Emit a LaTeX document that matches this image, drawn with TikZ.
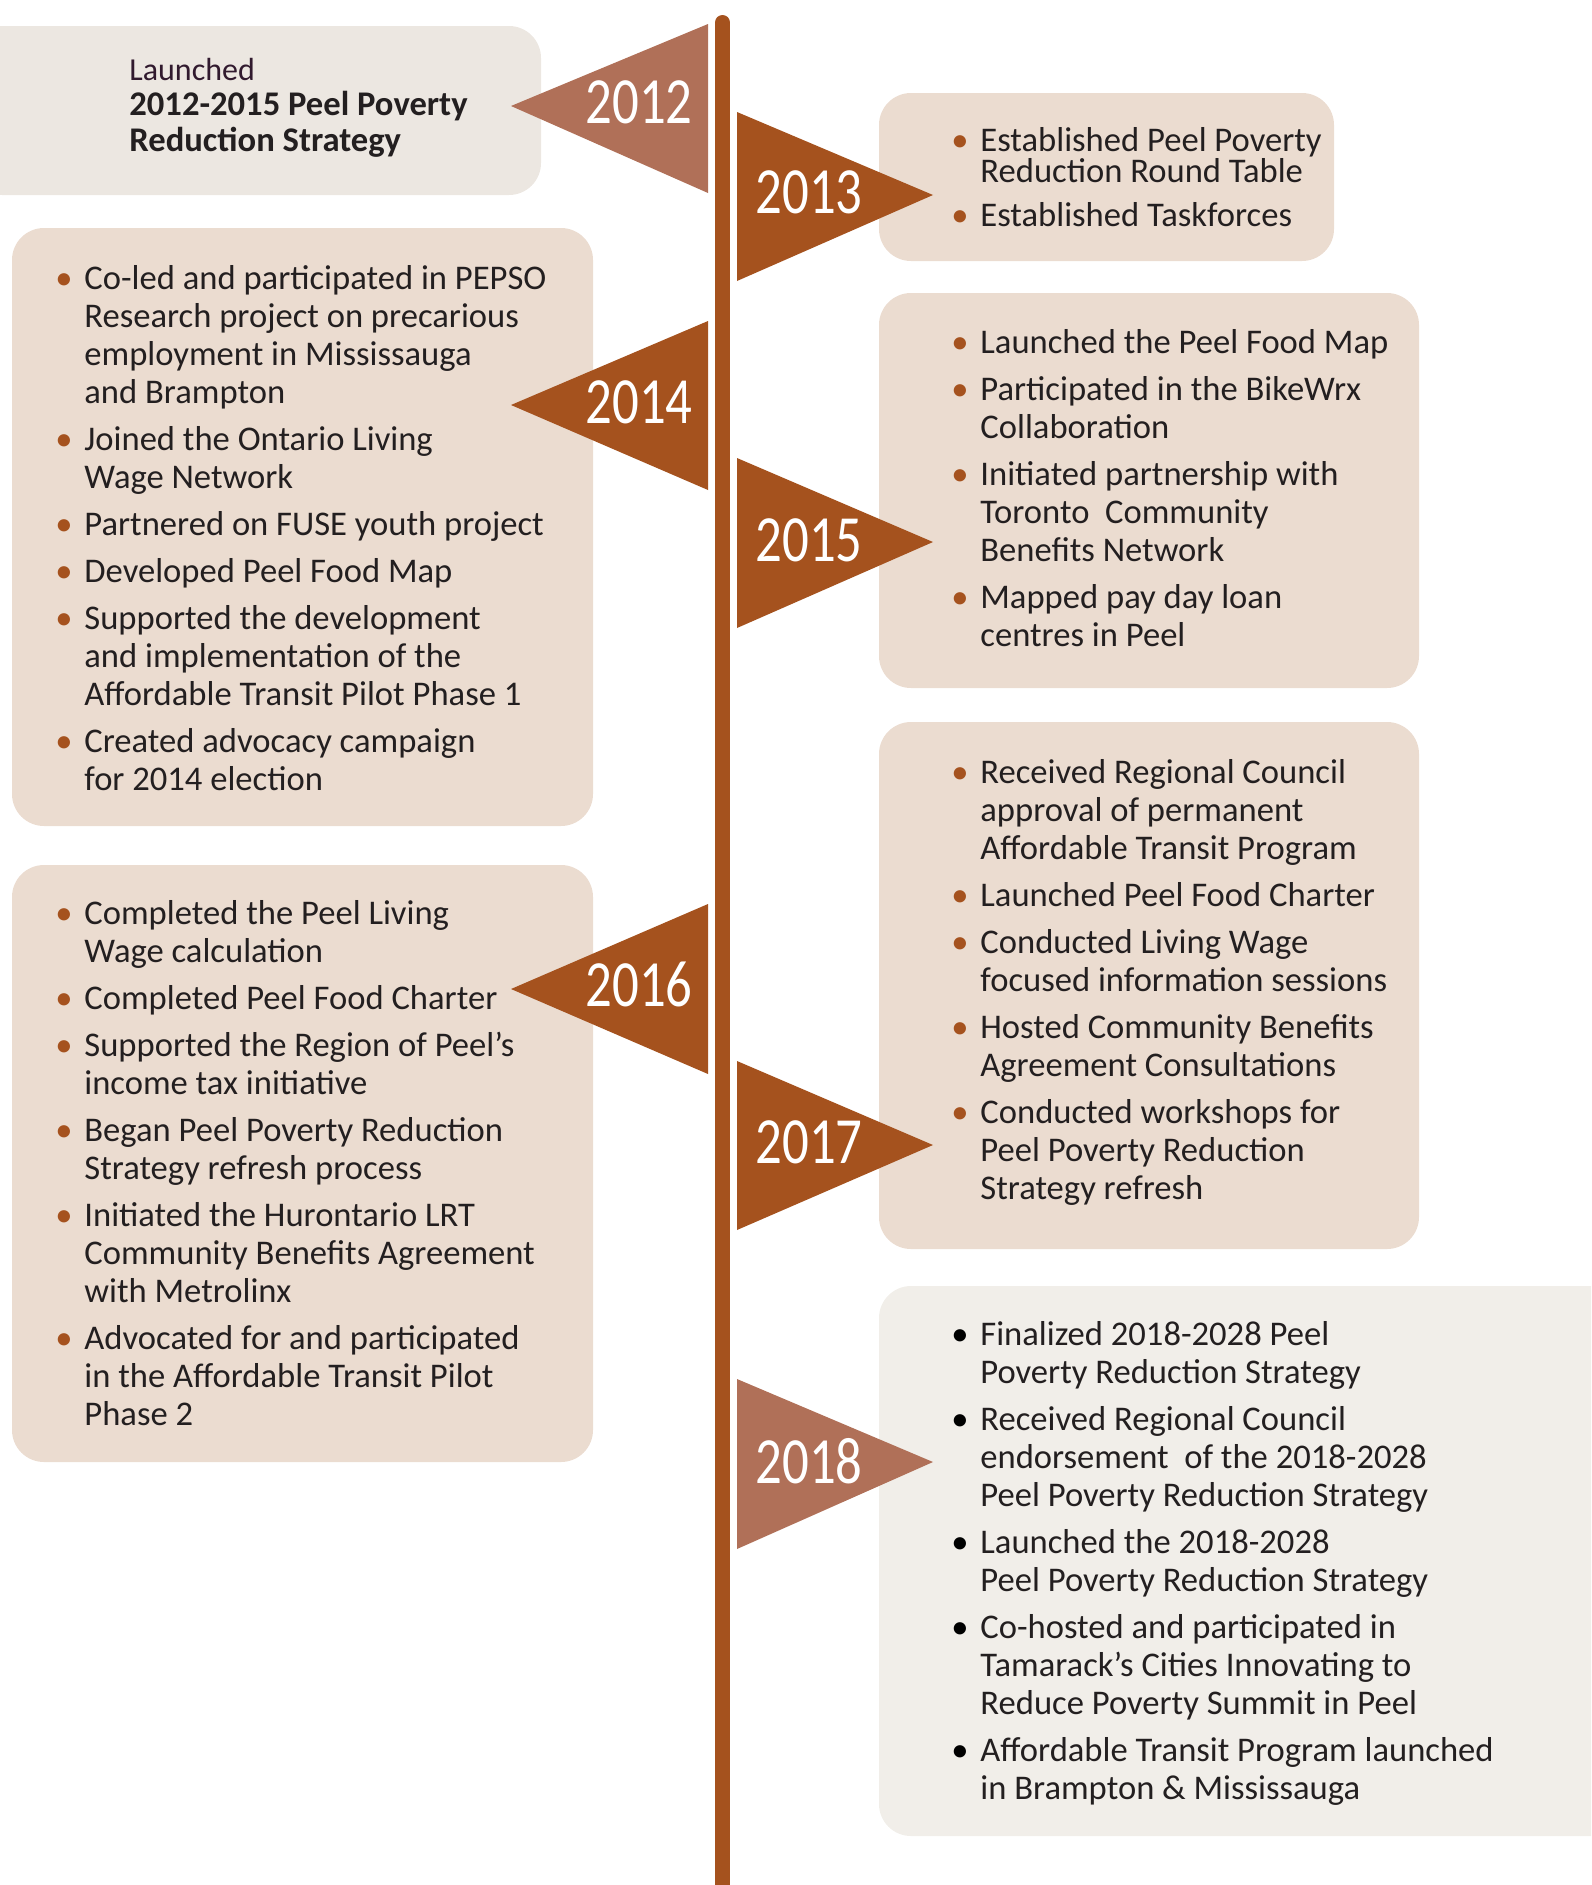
\documentclass[tikz,border=0pt]{standalone}
\usepackage{fontspec}
\setmainfont{Carlito}
\definecolor{linebrown}{HTML}{A5521E}
\definecolor{lightbrown}{HTML}{B07058}
\definecolor{boxA}{HTML}{ECE7E1}
\definecolor{boxB}{HTML}{EBDCD0}
\definecolor{boxC}{HTML}{F1EEE9}
\definecolor{txtc}{HTML}{231F20}
\newlength\bulw
\setlength\bulw{15pt}
\newcommand\bi[2][linebrown]{\hbox{\makebox[\bulw][l]{\hspace*{0.5pt}\textcolor{#1}{\textbullet}}#2}}
\newcommand\cl[1]{\hbox{\hspace*{\bulw}#1}}
\newcommand\gp{\vskip4.5pt}
\newcommand\blist[2][19pt]{\vtop{\baselineskip=#1\lineskiplimit=-30pt\lineskip=0pt #2}}
\newcommand\yr[1]{\scalebox{0.8}[1]{#1}}
\begin{document}
\begin{tikzpicture}[x=0.5pt,y=-0.5pt,
  panel/.style={draw=none,rounded corners=16pt,inner sep=0pt},
  year/.style={text=white,font=\fontsize{33}{33}\selectfont,inner sep=0pt},
  lst/.style={anchor=base west,inner sep=0pt,text=txtc,font=\fontsize{17.3}{19}\selectfont},
  darkflag/.style={fill=linebrown,draw=none},
  lightflag/.style={fill=lightbrown,draw=none}]
\useasboundingbox (0,0) rectangle (1591,1885);
\clip (0,0) rectangle (1591,1885);
% panels
\node[panel,fill=boxA,minimum width=285.5pt,minimum height=84.5pt] (b12) at (255.5,110.5) {};
\node[panel,fill=boxB,minimum width=227.5pt,minimum height=84pt] (b13) at (1106.5,177) {};
\node[panel,fill=boxB,minimum width=290.5pt,minimum height=299pt] (b14) at (302.5,527) {};
\node[panel,fill=boxB,minimum width=270pt,minimum height=197.5pt] (b15) at (1149,490.5) {};
\node[panel,fill=boxB,minimum width=290.5pt,minimum height=298.5pt] (b16) at (302.5,1163.5) {};
\node[panel,fill=boxB,minimum width=270pt,minimum height=263.5pt] (b17) at (1149,985.5) {};
\node[panel,fill=boxC,minimum width=380.5pt,minimum height=275pt] (b18) at (1259.5,1561) {};
% timeline
\coordinate (ltop) at (722.5,22.5);
\coordinate (lbot) at (722.5,1910);
\draw[linebrown,line width=7.5pt,line cap=round] (ltop) -- (lbot);
% flags
\fill[lightflag] (708,24) -- (708,193) -- (511,106) -- cycle;
\fill[darkflag] (737,112) -- (737,281) -- (933,195) -- cycle;
\fill[darkflag] (708,321) -- (708,490) -- (511,405) -- cycle;
\fill[darkflag] (737,458) -- (737,628) -- (933,542) -- cycle;
\fill[darkflag] (708,904) -- (708,1074) -- (511,989) -- cycle;
\fill[darkflag] (737,1061) -- (737,1230) -- (933,1145) -- cycle;
\fill[lightflag] (737,1379) -- (737,1549) -- (933,1462) -- cycle;
% years
\node[year] (y12) at (639,102) {\yr{2012}};
\node[year] (y13) at (809,192) {\yr{2013}};
\node[year] (y14) at (639,402) {\yr{2014}};
\node[year] (y15) at (809,540) {\yr{2015}};
\node[year] (y16) at (639,984) {\yr{2016}};
\node[year] (y17) at (809,1142) {\yr{2017}};
\node[year] (y18) at (809,1461) {\yr{2018}};
% texts
\node[lst] (t12) at (129,80) {\blist[17.75pt]{%
  \hbox{\fontsize{16}{18}\selectfont\color{txtc!85!violet}Launched}
  \hbox{\bfseries 2012-2015 Peel Poverty}
  \hbox{\bfseries Reduction Strategy}}};
\node[lst] (t13) at (950,151) {\blist[15.5pt]{%
  \bi{Established Peel Poverty}
  \cl{Reduction Round Table}\vskip6.5pt
  \bi{Established Taskforces}}};
\node[lst] (t14) at (54,289) {\blist{%
  \bi{Co-led and participated in PEPSO}
  \cl{Research project on precarious}
  \cl{employment in Mississauga}
  \cl{and Brampton}\gp
  \bi{Joined the Ontario Living}
  \cl{Wage Network}\gp
  \bi{Partnered on FUSE youth project}\gp
  \bi{Developed Peel Food Map}\gp
  \bi{Supported the development}
  \cl{and implementation of the}
  \cl{Affordable Transit Pilot Phase 1}\gp
  \bi{Created advocacy campaign}
  \cl{for 2014 election}}};
\node[lst] (t15) at (950,353) {\blist{%
  \bi{Launched the Peel Food Map}\gp
  \bi{Participated in the BikeWrx}
  \cl{Collaboration}\gp
  \bi{Initiated partnership with}
  \cl{Toronto\ \ Community}
  \cl{Benefits Network}\gp
  \bi{Mapped pay day loan}
  \cl{centres in Peel}}};
\node[lst] (t16) at (54,924) {\blist{%
  \bi{Completed the Peel Living}
  \cl{Wage calculation}\gp
  \bi{Completed Peel Food Charter}\gp
  \bi{Supported the Region of Peel’s}
  \cl{income tax initiative}\gp
  \bi{Began Peel Poverty Reduction}
  \cl{Strategy refresh process}\gp
  \bi{Initiated the Hurontario LRT}
  \cl{Community Benefits Agreement}
  \cl{with Metrolinx}\gp
  \bi{Advocated for and participated}
  \cl{in the Affordable Transit Pilot}
  \cl{Phase 2}}};
\node[lst] (t17) at (950,783) {\blist{%
  \bi{Received Regional Council}
  \cl{approval of permanent}
  \cl{Affordable Transit Program}\gp
  \bi{Launched Peel Food Charter}\gp
  \bi{Conducted Living Wage}
  \cl{focused information sessions}\gp
  \bi{Hosted Community Benefits}
  \cl{Agreement Consultations}\gp
  \bi{Conducted workshops for}
  \cl{Peel Poverty Reduction}
  \cl{Strategy refresh}}};
\node[lst] (t18) at (950,1345) {\blist{%
  \bi[black]{Finalized 2018-2028 Peel}
  \cl{Poverty Reduction Strategy}\gp
  \bi[black]{Received Regional Council}
  \cl{endorsement\ \ of the 2018-2028}
  \cl{Peel Poverty Reduction Strategy}\gp
  \bi[black]{Launched the 2018-2028}
  \cl{Peel Poverty Reduction Strategy}\gp
  \bi[black]{Co-hosted and participated in}
  \cl{Tamarack’s Cities Innovating to}
  \cl{Reduce Poverty Summit in Peel}\gp
  \bi[black]{Affordable Transit Program launched}
  \cl{in Brampton \& Mississauga}}};
\end{tikzpicture}
\end{document}
